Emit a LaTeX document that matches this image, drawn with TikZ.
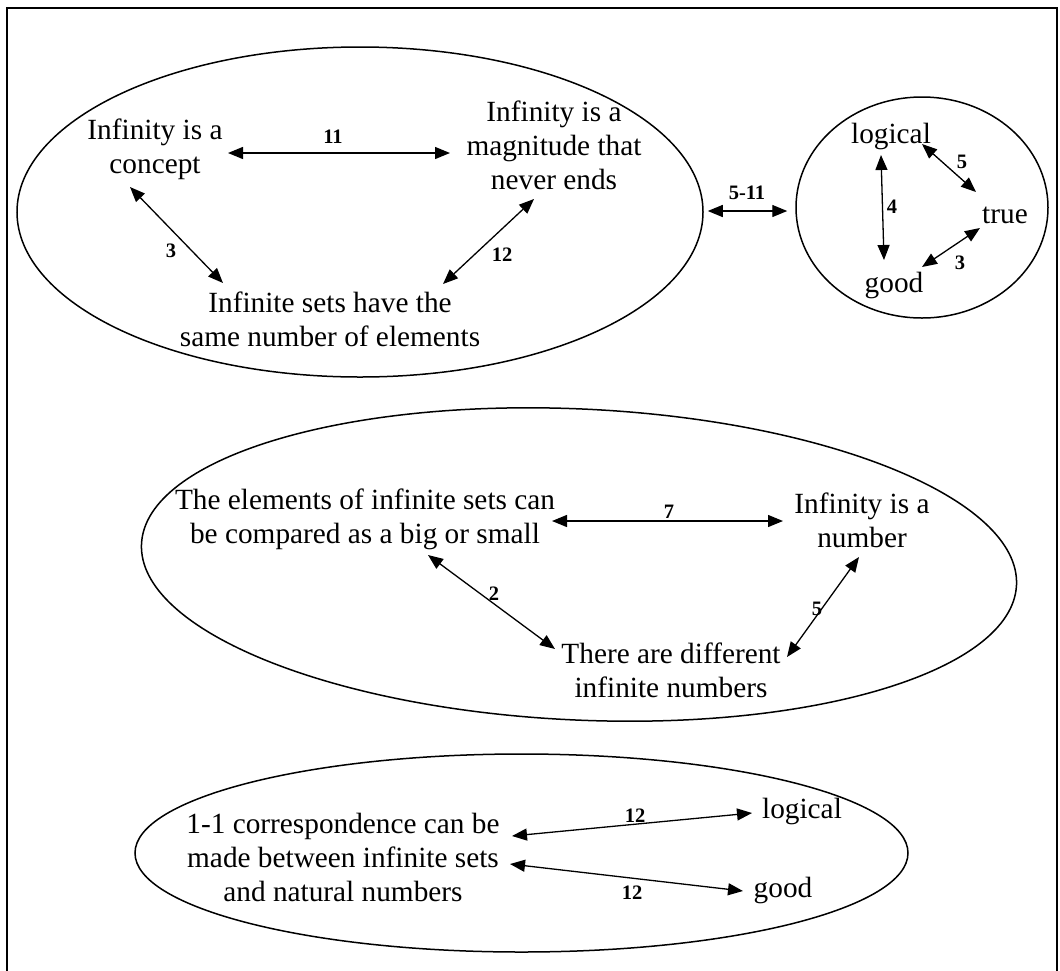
\documentclass[tikz,border=0pt]{standalone}
\usepackage{fontspec}
\setmainfont{Liberation Serif}
\usetikzlibrary{arrows.meta,shapes.geometric,calc}
\tikzset{
  txt/.style={font=\fontsize{29.3}{34}\selectfont, align=center, inner sep=0pt, anchor=base},
  lbl/.style={font=\fontsize{20.5}{22}\selectfont\bfseries, inner sep=0pt},
  dbl/.style={{Triangle[length=15pt,width=12pt]}-{Triangle[length=15pt,width=12pt]}, line width=1.3pt},
  oval/.style={draw, ellipse, inner sep=0pt, line width=1.5pt},
  frame/.style={line width=1.8pt}
}
\begin{document}
\begin{tikzpicture}[x=1pt,y=-1pt]
\useasboundingbox (0,0) rectangle (1060,970);
\draw[frame] (7,975) -- (7,8) -- (1057,8) -- (1057,975);

% ovals
\node[oval, minimum width=686pt, minimum height=330pt] (E1) at (360,212) {};
\node[oval, minimum width=252pt, minimum height=221pt] (E2) at (922,207.5) {};
\node[oval, minimum width=876pt, minimum height=311pt, rotate=-2.7] (E3) at (579,564.5) {};
\node[oval, minimum width=773pt, minimum height=198pt] (E4) at (521.5,853) {};

% group 1 (base = baseline of the last line)
\node[txt] (A) at (155,173) {Infinity is a\\concept};
\node[txt] (B) at (554,189) {Infinity is a\\magnitude that\\never ends};
\node[txt] (C) at (330,346) {Infinite sets have the\\same number of elements};
\draw[dbl] ($(A.base)+(73,-20)$) -- ($(B.base)+(-104,-36)$);
\draw[dbl] ($(A.base)+(-25,14)$) -- ($(C.base)+(-107,-63)$);
\draw[dbl] ($(B.base)+(-20,10)$) -- ($(C.base)+(113,-62)$);
\node[lbl] (l11) at (333,137) {11};
\node[lbl] (l3a) at (171,251) {3};
\node[lbl] (l12a) at (502,255) {12};

% link between group 1 and group 2
\draw[dbl] ($(E1.east)+(4,-1)$) -- ($(E2.west)+(-8,3.5)$);
\node[lbl] (l511) at (747,193) {5-11};

% group 2
\node[txt] (log1) at (891,143) {logical};
\node[txt] (tru) at (1005,223) {true};
\node[txt] (goo1) at (894,292) {good};
\draw[dbl] ($(log1.base)+(-10,12)$) -- ($(goo1.base)+(-10,-32)$);
\draw[dbl] ($(log1.base)+(31,1)$) -- ($(tru.base)+(-29,-31)$);
\draw[dbl] ($(tru.base)+(-25,5)$) -- ($(goo1.base)+(28,-25)$);
\node[lbl] (l4) at (892,207) {4};
\node[lbl] (l5a) at (962,162) {5};
\node[lbl] (l3b) at (960,263) {3};

% group 3
\node[txt] (D) at (365,543) {The elements of infinite sets can\\be compared as a big or small};
\node[txt] (E) at (862,547) {Infinity is a\\number};
\node[txt] (F) at (671,697) {There are different\\infinite numbers};
\draw[dbl] ($(D.base)+(187,-22)$) -- ($(E.base)+(-79,-26)$);
\draw[dbl] ($(D.base)+(63,12)$) -- ($(F.base)+(-116,-48)$);
\draw[dbl] ($(E.base)+(-3,10)$) -- ($(F.base)+(116,-40)$);
\node[lbl] (l7) at (669,512) {7};
\node[lbl] (l2) at (494,594) {2};
\node[lbl] (l5b) at (817,609) {5};

% group 4
\node[txt] (G) at (343,901) {1-1 correspondence can be\\made between infinite sets\\and natural numbers};
\node[txt] (log2) at (802,818) {logical};
\node[txt] (goo2) at (783,897) {good};
\draw[dbl] ($(G.base)+(169,-65)$) -- ($(log2.base)+(-50,-5)$);
\draw[dbl] ($(G.base)+(167,-37)$) -- ($(goo2.base)+(-40,-6)$);
\node[lbl] (l12b) at (635,816) {12};
\node[lbl] (l12c) at (632,893) {12};
\end{tikzpicture}
\end{document}
